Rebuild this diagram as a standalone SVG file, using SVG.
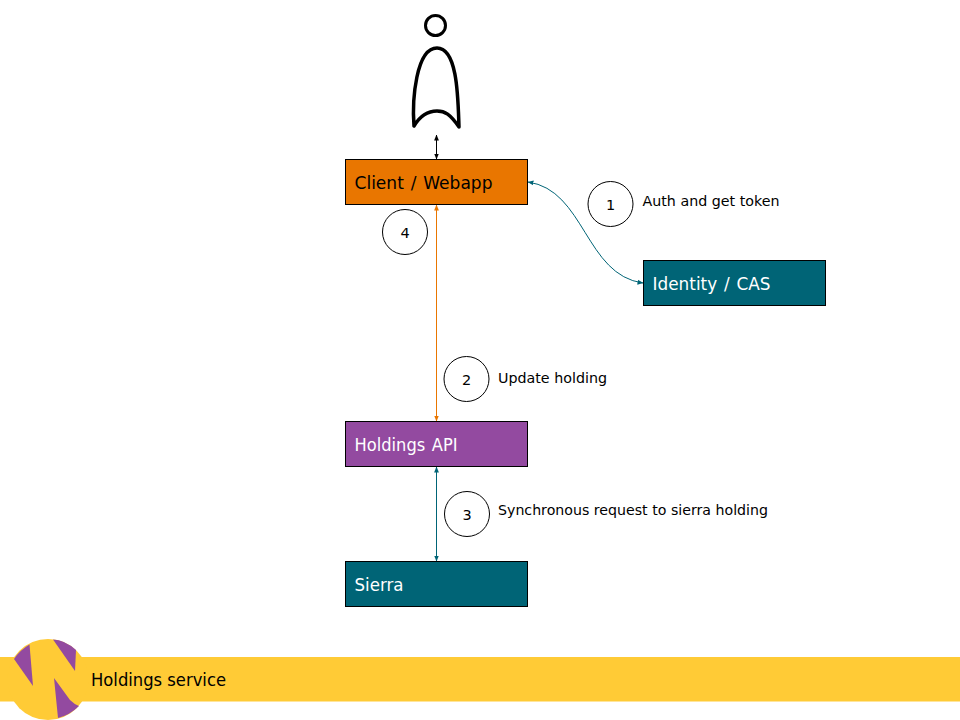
<svg xmlns="http://www.w3.org/2000/svg" width="960" height="720" viewBox="0 0 960 720">
<style>
text{font-family:"DejaVu Sans","Noto Sans",sans-serif;fill:#000}
.n{stroke:#000;stroke-width:1}
.l{font-size:18px;word-spacing:1.500px}
.w{fill:#fff}
.s{font-size:14.500px}
.c{fill:#fff;stroke:#000;stroke-width:1}
.d{font-size:14.500px;text-anchor:middle}
.f{fill:none;stroke-width:1}
</style>
<defs>
<marker id="k" viewBox="0 0 6 6" refX="5.500" refY="3" markerWidth="6" markerHeight="6" orient="auto-start-reverse" markerUnits="userSpaceOnUse"><path d="M0 0.600L6 3L0 5.400z" fill="#000"/></marker>
<marker id="t" viewBox="0 0 6 6" refX="5.500" refY="3" markerWidth="6" markerHeight="6" orient="auto-start-reverse" markerUnits="userSpaceOnUse"><path d="M0 0.600L6 3L0 5.400z" fill="#006476"/></marker>
<marker id="o" viewBox="0 0 6 6" refX="5.500" refY="3" markerWidth="6" markerHeight="6" orient="auto-start-reverse" markerUnits="userSpaceOnUse"><path d="M0 0.600L6 3L0 5.400z" fill="#e97600"/></marker>
</defs>
<g id="footer">
<rect x="0" y="657" width="960" height="44.500" fill="#ffcb36"/>
<circle cx="48" cy="679.500" r="40.500" fill="#ffcb36"/>
<path d="M29.500 644.500Q20 650 14 659L33 686z" fill="#934aa0"/>
<path d="M53 639.500Q65 640 76 650L75 671z" fill="#934aa0"/>
<path d="M54 678L70 700Q74 704 79 706Q70 715 58 718z" fill="#934aa0"/>
<text x="91" y="686" font-size="18px" textLength="135" lengthAdjust="spacingAndGlyphs">Holdings service</text>
</g>
<g id="connectors">
<path class="f" stroke="#000" d="M436.500 135V159" marker-start="url(#k)" marker-end="url(#k)"/>
<path class="f" stroke="#e97600" d="M436.500 205V421" marker-start="url(#o)" marker-end="url(#o)"/>
<path class="f" stroke="#006476" d="M436.500 467V561" marker-start="url(#t)" marker-end="url(#t)"/>
<path class="f" stroke="#006476" d="M528 182C585 190 585 275 643 283" marker-start="url(#t)" marker-end="url(#t)"/>
</g>
<g id="person" fill="none" stroke="#000" stroke-linejoin="round" stroke-linecap="round">
<circle cx="435.500" cy="25.500" r="10" stroke-width="3"/>
<path d="M414 126C412 100 416 48 437 48C458 48 458 100 459 127C450 114 445 111 437 111C428 111 420 116 414 126Z" stroke-width="3.500"/>
</g>
<g id="client"><rect class="n" x="345.500" y="159.500" width="182" height="45" fill="#e97600"/><text class="l" x="354.500" y="189" textLength="138" lengthAdjust="spacingAndGlyphs">Client / Webapp</text></g>
<g id="identity"><rect class="n" x="643.500" y="260.500" width="182" height="45" fill="#006476"/><text class="l w" x="652.500" y="290" textLength="118" lengthAdjust="spacingAndGlyphs">Identity / CAS</text></g>
<g id="holdings"><rect class="n" x="345.500" y="421.500" width="182" height="45" fill="#934aa0"/><text class="l w" x="354.500" y="451" textLength="103" lengthAdjust="spacingAndGlyphs">Holdings API</text></g>
<g id="sierra"><rect class="n" x="345.500" y="561.500" width="182" height="45" fill="#006476"/><text class="l w" x="354.500" y="591" textLength="49" lengthAdjust="spacingAndGlyphs">Sierra</text></g>
<g id="step1"><circle class="c" cx="610.500" cy="204" r="22.500"/><text class="d" x="610.500" y="210">1</text></g>
<g id="step4"><circle class="c" cx="405" cy="232" r="22.500"/><text class="d" x="405" y="238">4</text></g>
<g id="step2"><circle class="c" cx="466.500" cy="379" r="22.500"/><text class="d" x="466.500" y="385">2</text></g>
<g id="step3"><circle class="c" cx="467" cy="514" r="22.500"/><text class="d" x="467" y="520">3</text></g>
<text class="s" x="642.500" y="206" textLength="137" lengthAdjust="spacingAndGlyphs">Auth and get token</text>
<text class="s" x="498" y="383" textLength="109" lengthAdjust="spacingAndGlyphs">Update holding</text>
<text class="s" x="498" y="515" textLength="270" lengthAdjust="spacingAndGlyphs">Synchronous request to sierra holding</text>
</svg>
